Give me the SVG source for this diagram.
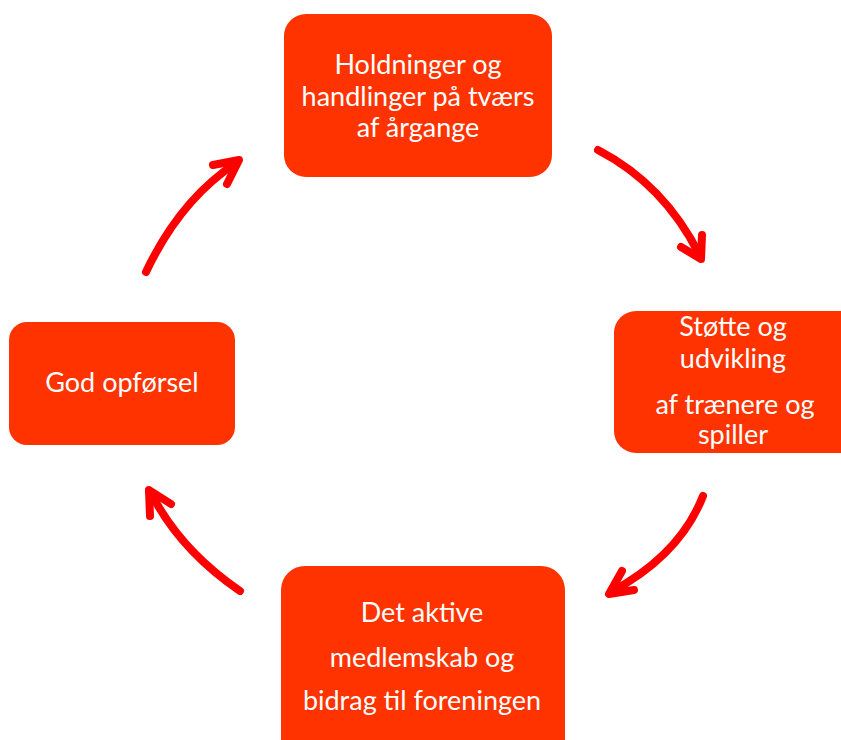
<svg xmlns="http://www.w3.org/2000/svg" width="841" height="740" viewBox="0 0 841 740">
<style>
.box{fill:#FF3300;}
.t{font-family:Lato,"Open Sans","Liberation Sans",sans-serif;font-size:27px;fill:#FFFFFF;text-anchor:middle;}
.arr{fill:none;stroke:#FF0000;stroke-width:8;stroke-linecap:round;stroke-linejoin:round;}
</style>
<rect width="841" height="740" fill="#FFFFFF"/>
<g id="node-top">
<rect class="box" x="284" y="14" width="268" height="163" rx="22"/>
<text class="t" x="418" y="74">Holdninger og</text>
<text class="t" x="418" y="106">handlinger på tværs</text>
<text class="t" x="418" y="137">af årgange</text>
</g>
<g id="node-right">
<rect class="box" x="614" y="311" width="250" height="142" rx="22"/>
<text class="t" x="733" y="336">Støtte og</text>
<text class="t" x="733" y="368">udvikling</text>
<text class="t" x="735" y="414">af trænere og</text>
<text class="t" x="733" y="444">spiller</text>
</g>
<g id="node-bottom">
<rect class="box" x="281" y="566" width="284" height="200" rx="24"/>
<text class="t" x="422" y="622">Det aktive</text>
<text class="t" x="422" y="667">medlemskab og</text>
<text class="t" x="422" y="710">bidrag til foreningen</text>
</g>
<g id="node-left">
<rect class="box" x="9" y="322" width="226" height="123" rx="18"/>
<text class="t" x="122" y="392">God opførsel</text>
</g>
<g id="connectors">
<path class="arr" d="M598,150 Q665,185 700,256"/>
<path class="arr" d="M702,235 L701,259 L681,247"/>
<path class="arr" d="M703,496 Q680,555 611,592"/>
<path class="arr" d="M622,571 L609,594 L634,590"/>
<path class="arr" d="M240,591 Q180,550 151,493"/>
<path class="arr" d="M150,516 L149,490 L171,504"/>
<path class="arr" d="M146,272 Q180,200 236,163"/>
<path class="arr" d="M213,165 L239,160 L227,184"/>
</g>
</svg>
